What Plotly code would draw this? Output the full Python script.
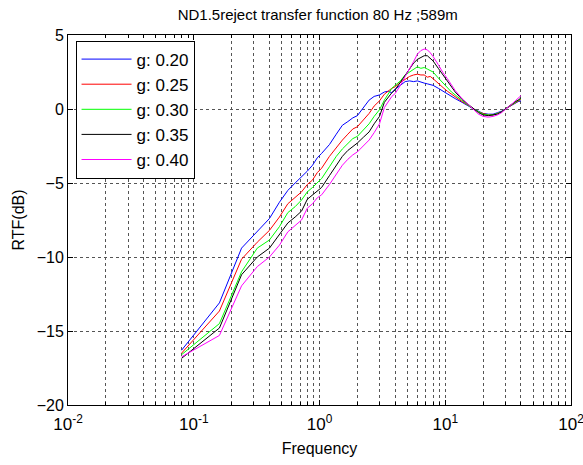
import plotly.graph_objects as go

freq = [0.08, 0.16, 0.24, 0.32, 0.40, 0.48, 0.56, 0.64, 0.72, 0.80, 0.88, 0.96, 1.04, 1.2, 1.36,
        1.52, 1.68, 1.84, 2.0, 2.24, 2.48, 2.72, 3.0, 3.28, 3.52, 3.76, 4.0, 4.4, 4.8, 5.2, 5.6,
        6.0, 6.4, 6.8, 7.2, 7.6, 8.0, 8.8, 9.6, 10.4, 11.2, 12.0, 13.6, 15.2, 16.8, 18.4, 20.0,
        22.0, 24.0, 26.0, 28.0, 30.0, 32.0, 34.0, 36.0, 38.0, 40.0]

g020 = [-16.3, -13.1, -9.4, -8.3, -7.4, -6.3, -5.5, -5.0, -4.6, -4.2, -3.8, -3.3, -3.0, -2.4, -1.7,
        -1.1, -0.85, -0.6, -0.45, 0.1, 0.6, 0.85, 0.95, 1.15, 1.2, 1.1, 1.35, 1.6, 1.85, 1.9, 1.85,
        1.9, 1.8, 1.75, 1.7, 1.65, 1.6, 1.4, 1.2, 1.0, 0.85, 0.7, 0.45, 0.2, 0.0, -0.15, -0.3,
        -0.35, -0.35, -0.25, -0.15, 0.0, 0.15, 0.3, 0.4, 0.5, 0.55]
g025 = [-16.5, -13.65, -10.15, -9.0, -8.2, -7.3, -6.4, -6.0, -5.6, -5.1, -4.8, -4.3, -4.0, -3.2, -2.6,
        -2.1, -1.7, -1.35, -1.2, -0.75, -0.3, 0.2, 0.55, 1.0, 1.2, 1.4, 1.5, 1.8, 2.0, 2.2, 2.3,
        2.35, 2.3, 2.3, 2.15, 2.2, 2.05, 1.7, 1.45, 1.2, 1.0, 0.85, 0.5, 0.25, 0.0, -0.2, -0.3,
        -0.4, -0.4, -0.3, -0.2, 0.0, 0.15, 0.3, 0.45, 0.55, 0.65]
g030 = [-16.6, -14.5, -11.0, -9.4, -8.85, -7.95, -7.0, -6.6, -6.15, -5.6, -5.3, -5.0, -4.7, -3.9, -3.2,
        -2.7, -2.3, -2.0, -1.85, -1.4, -1.0, -0.5, -0.05, 0.6, 1.0, 1.4, 1.6, 1.9, 2.3, 2.5, 2.7,
        2.85, 2.75, 2.8, 2.7, 2.6, 2.5, 2.1, 1.75, 1.5, 1.15, 0.95, 0.55, 0.25, 0.0, -0.2, -0.35,
        -0.4, -0.4, -0.3, -0.2, 0.0, 0.15, 0.3, 0.45, 0.6, 0.7]
g035 = [-16.85, -14.8, -11.2, -10.0, -9.4, -8.5, -7.7, -7.3, -6.9, -6.1, -5.8, -5.5, -5.3, -4.5, -3.8,
        -3.2, -2.8, -2.55, -2.3, -1.9, -1.55, -1.0, -0.5, 0.45, 0.8, 1.1, 1.3, 1.8, 2.3, 2.7, 3.1,
        3.35, 3.5, 3.6, 3.6, 3.4, 3.25, 2.75, 2.3, 1.9, 1.45, 1.15, 0.65, 0.3, 0.0, -0.25, -0.4,
        -0.45, -0.4, -0.35, -0.2, 0.0, 0.15, 0.35, 0.5, 0.6, 0.75]
g040 = [-16.75, -15.3, -11.95, -10.65, -10.0, -9.2, -8.3, -7.9, -7.5, -6.7, -6.4, -6.0, -5.8, -5.1, -4.4,
        -3.8, -3.4, -3.1, -2.9, -2.5, -2.1, -1.6, -1.0, 0.1, 0.5, 0.85, 1.05, 1.6, 2.2, 2.7, 3.2,
        3.7, 3.95, 4.05, 4.0, 3.8, 3.55, 3.0, 2.45, 2.05, 1.6, 1.25, 0.7, 0.3, -0.05, -0.35, -0.5,
        -0.55, -0.5, -0.4, -0.25, -0.05, 0.15, 0.35, 0.55, 0.7, 0.9]

series = [("g: 0.20", g020, "#0000FF"), ("g: 0.25", g025, "#FF0000"),
          ("g: 0.30", g030, "#00FF00"), ("g: 0.35", g035, "#000000"),
          ("g: 0.40", g040, "#FF00FF")]

x_tickvals = [0.01, 0.1, 1, 10, 100]
x_ticktext = ["10<sup>-2</sup>", "10<sup>-1</sup>", "10<sup>0</sup>", "10<sup>1</sup>", "10<sup>2</sup>"]
x_minor = [m * d for d in (0.01, 0.1, 1, 10) for m in range(2, 10)]
y_ticks = [-20, -15, -10, -5, 0, 5]

fig = go.Figure()
for name, vals, col in series:
    fig.add_trace(go.Scatter(x=freq, y=vals, mode="lines", name=name, legendgroup=name,
                             line=dict(color=col, width=1)))

font = dict(family="Arial, Liberation Sans, sans-serif", size=14, color="black")
grid_col = "#555555"
fig.update_layout(
    width=583, height=465,
    margin=dict(l=68, r=12, t=35, b=60, autoexpand=False),
    paper_bgcolor="white", plot_bgcolor="white",
    font=font,
    title=dict(text="ND1.5reject transfer function 80 Hz ;589m", x=0.545, xanchor="center",
               y=0.968, yanchor="middle", font=dict(size=15)),
    showlegend=True,
    legend=dict(x=0.015, y=0.985, xanchor="left", yanchor="top", bgcolor="white",
                bordercolor="black", borderwidth=1, font=dict(size=17),
                tracegroupgap=0, itemwidth=50),
)
fig.update_xaxes(type="log", range=[-2, 2], tickvals=x_tickvals, ticktext=x_ticktext,
                 ticklabeloverflow="allow", automargin=False, ticklabelstandoff=4,
                 showline=True, linecolor="black", linewidth=1, mirror="ticks",
                 ticks="inside", ticklen=5, tickcolor="black",
                 showgrid=True, gridcolor=grid_col, griddash="dot", gridwidth=1,
                 minor=dict(tickvals=x_minor, ticks="inside", ticklen=3, tickcolor="black",
                            showgrid=True, gridcolor=grid_col, griddash="dot"),
                 zeroline=False,
                 title=dict(text="Frequency", standoff=9, font=dict(size=16)),
                 tickfont=dict(size=17))
fig.update_yaxes(range=[-20, 5], tickvals=y_ticks, automargin=False,
                 showline=True, linecolor="black", linewidth=1, mirror="ticks",
                 ticks="inside", ticklen=5, tickcolor="black",
                 showgrid=True, gridcolor=grid_col, griddash="dot", gridwidth=1,
                 zeroline=False,
                 title=dict(text="RTF(dB)", standoff=8, font=dict(size=16)),
                 tickfont=dict(size=16))

fig.write_html("out.html")
